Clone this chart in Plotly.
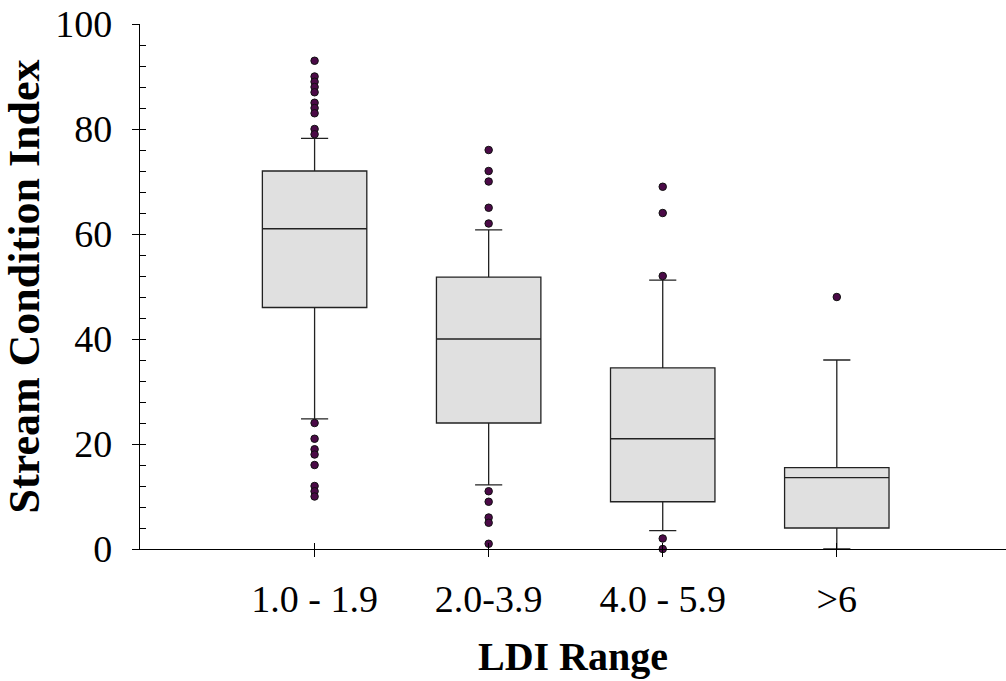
import plotly.graph_objects as go

categories = ["1.0 - 1.9", "2.0-3.9", "4.0 - 5.9", ">6"]
q1 = [46, 24, 9, 4]
medians = [61, 40, 21, 13.6]
q3 = [72, 51.8, 34.5, 15.5]
lower_whisker = [24.8, 12.2, 3.5, 0]
upper_whisker = [78.2, 60.8, 51.2, 36]

outliers = {
    "1.0 - 1.9": [93, 90, 89, 88, 87, 85, 84, 83, 80, 79, 24, 21, 19, 18, 16, 12, 11, 10],
    "2.0-3.9": [76, 72, 70, 65, 62, 11, 9, 6, 5, 1],
    "4.0 - 5.9": [69, 64, 52, 2, 0],
    ">6": [48],
}

y_ticks = [0, 20, 40, 60, 80, 100]

FONT = "Liberation Serif"

fig = go.Figure()
fig.add_trace(go.Box(
    x=categories,
    q1=q1, median=medians, q3=q3,
    lowerfence=lower_whisker, upperfence=upper_whisker,
    boxpoints=False,
    fillcolor="#E0E0E0",
    line=dict(color="#222222", width=1.3),
    width=0.6,
    whiskerwidth=0.26,
    showlegend=False,
    hoverinfo="skip",
))

ox, oy = [], []
for c in categories:
    for v in outliers[c]:
        ox.append(c)
        oy.append(v)
fig.add_trace(go.Scatter(
    x=ox, y=oy, mode="markers",
    marker=dict(color="#4B0A47", size=7.5, line=dict(color="#111111", width=1)),
    cliponaxis=False, showlegend=False, hoverinfo="skip",
))

# invisible trace for overlay axes (inner halves of ticks)
fig.add_trace(go.Scatter(x=categories, y=[None] * len(categories), xaxis="x2", yaxis="y2",
                         mode="markers", showlegend=False, hoverinfo="skip"))

fig.update_layout(
    width=1006, height=681,
    margin=dict(l=140, r=0, t=24, b=132),
    plot_bgcolor="white", paper_bgcolor="white",
    font=dict(family=FONT, size=38, color="black"),
    xaxis=dict(
        type="category", categoryarray=categories, range=[-1.003, 3.972],
        showline=True, linecolor="black", linewidth=1.2,
        ticks="outside", ticklen=7, tickwidth=1, tickcolor="black",
        showgrid=False, zeroline=False,
        tickfont=dict(family=FONT, size=38),
        ticklabelstandoff=9,
        title=dict(text="<b>LDI Range</b>", font=dict(family=FONT, size=40), standoff=23),
    ),
    yaxis=dict(
        range=[0, 100], tickvals=y_ticks,
        showline=True, linecolor="black", linewidth=1.2,
        ticks="outside", ticklen=7, tickwidth=1, tickcolor="black",
        showgrid=False, zeroline=False,
        tickfont=dict(family=FONT, size=38),
        ticklabelstandoff=12,
        title=dict(text="<b>Stream Condition Index</b>", font=dict(family=FONT, size=44), standoff=10),
    ),
    xaxis2=dict(
        type="category", categoryarray=categories, overlaying="x", matches="x", anchor="y2",
        side="bottom", showline=False, showgrid=False, zeroline=False,
        ticks="inside", ticklen=6, tickwidth=1, tickcolor="black", showticklabels=False,
    ),
    yaxis2=dict(
        overlaying="y", matches="y", anchor="x2", side="left",
        showline=False, showgrid=False, zeroline=False,
        dtick=4, tick0=0,
        ticks="inside", ticklen=6, tickwidth=1, tickcolor="black", showticklabels=False,
    ),
)

fig.write_html("out.html")
